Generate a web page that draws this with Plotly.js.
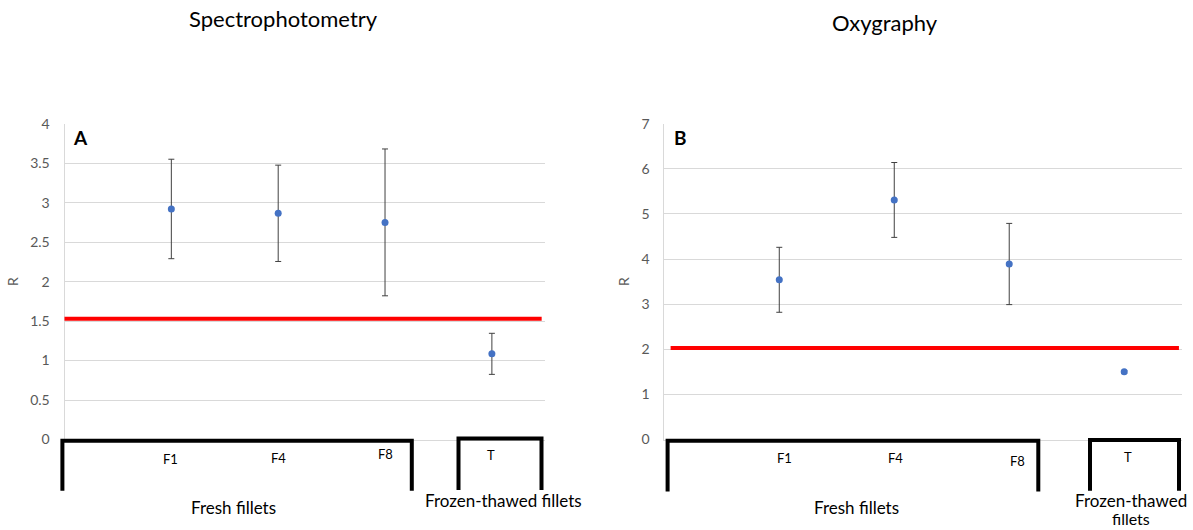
<!DOCTYPE html>
<html>
<head>
<meta charset="utf-8">
<script src="https://cdn.plot.ly/plotly-3.0.1.min.js"></script>
<style>html,body{margin:0;padding:0;background:#fff;}#chart{width:1193px;height:530px;}</style>
</head>
<body>
<div id="chart"></div>
<script>
// ---- data ----
const categories = ['F1', 'F4', 'F8', 'T'];
const spectroR = [2.92, 2.865, 2.75, 1.085];
const spectroErr = [0.63, 0.61, 0.93, 0.26];
const oxyR = [3.54, 5.31, 3.89, 1.50];
const oxyErr = [0.72, 0.83, 0.90, 0.03];
const thresholds = [1.53, 2.03];
const panelTitles = ['Spectrophotometry', 'Oxygraphy'];
const panelLetters = ['A', 'B'];
const groupLabels = ['Fresh fillets', 'Frozen-thawed fillets'];
const yTicksA = [0, 0.5, 1, 1.5, 2, 2.5, 3, 3.5, 4];
const yTicksB = [0, 1, 2, 3, 4, 5, 6, 7];

// ---- layout helpers (pixel -> paper) ----
const W = 1193, H = 530;
const px = v => v / W;
const py = v => 1 - v / H;
const xpos = categories.map((c, i) => i + 1);

const FONT = 'Lato, "Open Sans", sans-serif';
const blue = '#4472C4';

function pointTrace(vals, errs, xa, ya) {
  return {
    type: 'scatter', mode: 'markers', x: xpos, y: vals, xaxis: xa, yaxis: ya,
    marker: {color: blue, size: 7},
    error_y: {type: 'data', array: errs, visible: true, color: '#404040', thickness: 1, width: 3},
    showlegend: false, hoverinfo: 'y'
  };
}

const data = [
  pointTrace(spectroR, spectroErr, 'x', 'y'),
  pointTrace(oxyR, oxyErr, 'x2', 'y2')
];

const axisY = (domain, ticks, range) => ({
  domain: domain, range: range, tickvals: ticks, showgrid: true, gridcolor: '#d9d9d9', gridwidth: 1,
  zeroline: false, showline: true, linecolor: '#d9d9d9', linewidth: 1, ticks: '',
  tickfont: {family: FONT, size: 14, color: '#595959'}, ticklabelstandoff: 11,
  title: {text: 'R', font: {family: FONT, size: 14, color: '#595959'}, standoff: 8},
  automargin: false, fixedrange: true
});
const axisX = (domain, anchor) => ({
  domain: domain, range: [0, 4.5], showgrid: false, zeroline: false, showticklabels: false,
  showline: true, linecolor: '#d9d9d9', linewidth: 1, ticks: '', anchor: anchor, fixedrange: true
});

const dom = [py(439.5), py(123.7)];

function bracket(xl, xr, ytop, ybot) {
  return {
    type: 'path', xref: 'paper', yref: 'paper',
    path: 'M' + px(xl) + ',' + py(ybot) + ' L' + px(xl) + ',' + py(ytop) + ' L' + px(xr) + ',' + py(ytop) + ' L' + px(xr) + ',' + py(ybot),
    line: {color: '#000', width: 4}
  };
}

const shapes = [
  {type: 'line', xref: 'x', yref: 'y', x0: -0.01, x1: 4.466, y0: thresholds[0], y1: thresholds[0], line: {color: '#FF0000', width: 4}},
  {type: 'line', xref: 'x2', yref: 'y2', x0: 0.055, x1: 4.476, y0: thresholds[1], y1: thresholds[1], line: {color: '#FF0000', width: 4}},
  bracket(62.4, 411.8, 440.7, 490.7),
  bracket(458.5, 541.5, 438.5, 490),
  bracket(667.6, 1038.3, 440.7, 491.5),
  bracket(1090, 1179, 440, 490.7)
];

const ann = (text, x, y, size, extra) => Object.assign({
  text: text, xref: 'paper', yref: 'paper', x: px(x), y: py(y), xanchor: 'center', yanchor: 'middle',
  showarrow: false, font: {family: FONT, size: size, color: '#000'}
}, extra || {});

const ftParts = groupLabels[1].split(' ');

const annotations = [
  ann(panelTitles[0], 283.5, 18.5, 22),
  ann(panelTitles[1], 885, 23, 22),
  ann('<b>' + panelLetters[0] + '</b>', 80.5, 138, 19),
  ann('<b>' + panelLetters[1] + '</b>', 680.5, 138, 19),
  // tick labels panel A
  ann(categories[0], 171, 459, 13),
  ann(categories[1], 278, 457.7, 13),
  ann(categories[2], 385, 454.3, 13),
  ann(categories[3], 490.6, 455, 13),
  // tick labels panel B
  ann(categories[0], 785, 457.7, 13),
  ann(categories[1], 895, 457.7, 13),
  ann(categories[2], 1017.5, 460.7, 13),
  ann(categories[3], 1127.5, 456.7, 13),
  // group labels
  ann(groupLabels[0], 233, 507, 17),
  ann(groupLabels[1], 503, 500, 17),
  ann(groupLabels[0], 856.5, 507, 17),
  ann(ftParts[0], 1131, 500, 17),
  ann(ftParts[1], 1131, 518.5, 16)
];

const layout = {
  width: W, height: H, margin: {l: 0, r: 0, t: 0, b: 0},
  paper_bgcolor: '#fff', plot_bgcolor: '#fff', showlegend: false,
  xaxis: axisX([px(64.5), px(545.3)], 'y'),
  yaxis: Object.assign(axisY(dom, yTicksA, [0, 4]), {anchor: 'x'}),
  xaxis2: axisX([px(664.3), px(1181.7)], 'y2'),
  yaxis2: Object.assign(axisY(dom, yTicksB, [0, 7]), {anchor: 'x2'}),
  shapes: shapes, annotations: annotations
};

Plotly.newPlot('chart', data, layout, {displayModeBar: false, staticPlot: true});
</script>
</body>
</html>
